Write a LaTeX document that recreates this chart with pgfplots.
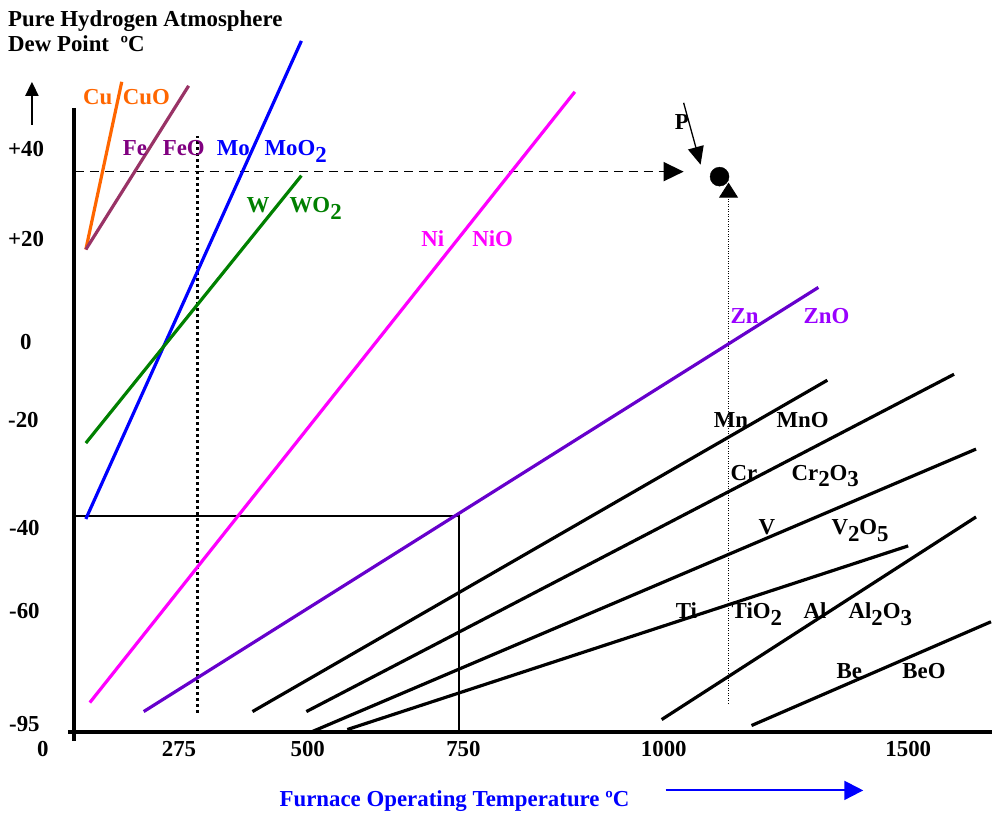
\documentclass[border=0pt]{standalone}
\usepackage{fontspec}
\setmainfont{Liberation Serif}
\usepackage{pgfplots}
\pgfplotsset{compat=1.18}
\usetikzlibrary{arrows.meta}
\definecolor{cuorange}{RGB}{255,102,0}
\definecolor{feline}{RGB}{153,51,102}
\definecolor{fetext}{RGB}{128,0,128}
\definecolor{moblue}{RGB}{0,0,255}
\definecolor{wgreen}{RGB}{0,128,0}
\definecolor{nimag}{RGB}{255,0,255}
\definecolor{znline}{RGB}{102,0,204}
\definecolor{zntext}{RGB}{153,0,255}
\newcommand{\sub}[1]{\raisebox{-0.3em}{#1}}
\tikzset{lab/.style={anchor=base west,inner sep=0pt,font=\fontsize{22.9}{25}\selectfont\bfseries}}
\begin{document}
\begin{tikzpicture}
\begin{axis}[x=1pt,y=1pt,xmin=0,xmax=994,ymin=0,ymax=814,
  axis line style={draw=none},xtick=\empty,ytick=\empty,clip=false]
% axes
\addplot[black,line width=3.5pt] coordinates {(74,706) (74,72)};
\addplot[black,line width=4pt] coordinates {(68,81) (994,81)};
\addplot[black,line width=2pt,-{Triangle[width=13pt,length=14pt]}] coordinates {(32,689) (32,732)};
\addplot[blue,line width=2pt,-{Triangle[width=19pt,length=19pt]}] coordinates {(667,22) (865,22)};
% guide lines
\addplot[black,line width=1.2pt] coordinates {(74,297) (460,297) (460,81)};
\addplot[black,line width=3pt,dash pattern=on 3pt off 3pt] coordinates {(198,100) (198,678)};
\addplot[black,line width=1.6pt,dash pattern=on 9pt off 6pt,-{Triangle[width=19pt,length=20pt]}] coordinates {(75,642) (685,642)};
\addplot[black,line width=0.7pt,dash pattern=on 1pt off 1.5pt,-{Triangle[width=19pt,length=15pt]}] coordinates {(730,109) (730,631)};
\addplot[black,line width=1.3pt,-{Triangle[width=16pt,length=18pt]}] coordinates {(685,711) (702,649)};
\addplot[only marks,mark=*,mark size=9.5pt,black] coordinates {(721,637)};
% oxidation lines
\addplot[cuorange,line width=3.2pt] coordinates {(86,564) (122,732)};
\addplot[feline,line width=3.2pt] coordinates {(86,564) (189,728)};
\addplot[moblue,line width=3.2pt] coordinates {(86,294) (302,773)};
\addplot[wgreen,line width=3.2pt] coordinates {(86,370) (302,638)};
\addplot[nimag,line width=3.2pt] coordinates {(90,110) (576,722)};
\addplot[znline,line width=3.2pt] coordinates {(144,101) (820,526)};
\addplot[black,line width=3.2pt] coordinates {(253,101) (829,433)};
\addplot[black,line width=3.2pt] coordinates {(307,101) (956,439)};
\addplot[black,line width=3.2pt] coordinates {(313,81) (978,364)};
\addplot[black,line width=3.2pt] coordinates {(348,83) (910,267)};
\addplot[black,line width=3.2pt] coordinates {(663,93) (978,296)};
\addplot[black,line width=3.2pt] coordinates {(753,87) (993,191)};
% titles
\node[lab] at (axis cs:8,787) {Pure Hydrogen Atmosphere};
\node[lab] at (axis cs:8,762) {Dew Point\ \ ºC};
\node[lab,text=blue] at (axis cs:280,6) {Furnace Operating Temperature ºC};
% y tick labels
\node[lab] at (axis cs:8,657) {+40};
\node[lab] at (axis cs:8,567) {+20};
\node[lab] at (axis cs:20,464) {0};
\node[lab] at (axis cs:8,386) {-20};
\node[lab] at (axis cs:9,277) {-40};
\node[lab] at (axis cs:9,194) {-60};
\node[lab] at (axis cs:9,81) {-95};
% x tick labels
\node[lab] at (axis cs:37,56) {0};
\node[lab] at (axis cs:162,56) {275};
\node[lab] at (axis cs:291,56) {500};
\node[lab] at (axis cs:447,56) {750};
\node[lab] at (axis cs:642,56) {1000};
\node[lab] at (axis cs:887,56) {1500};
% element labels
\node[lab,text=cuorange] at (axis cs:83,709) {Cu};
\node[lab,text=cuorange] at (axis cs:123,709) {CuO};
\node[lab,text=fetext] at (axis cs:123,658) {Fe};
\node[lab,text=fetext] at (axis cs:163,658) {FeO};
\node[lab,text=moblue] at (axis cs:217,658) {Mo};
\node[lab,text=moblue] at (axis cs:265,658) {MoO\sub{2}};
\node[lab,text=wgreen] at (axis cs:247,601) {W};
\node[lab,text=wgreen] at (axis cs:290,601) {WO\sub{2}};
\node[lab,text=nimag] at (axis cs:422,567) {Ni};
\node[lab,text=nimag] at (axis cs:473,567) {NiO};
\node[lab,text=zntext] at (axis cs:732,490) {Zn};
\node[lab,text=zntext] at (axis cs:805,490) {ZnO};
\node[lab] at (axis cs:715,386) {Mn};
\node[lab] at (axis cs:778,386) {MnO};
\node[lab] at (axis cs:732,333) {Cr};
\node[lab] at (axis cs:793,333) {Cr\sub{2}O\sub{3}};
\node[lab] at (axis cs:760,278) {V};
\node[lab] at (axis cs:833,278) {V\sub{2}O\sub{5}};
\node[lab] at (axis cs:677,194) {Ti};
\node[lab] at (axis cs:733,194) {TiO\sub{2}};
\node[lab] at (axis cs:805,194) {Al};
\node[lab] at (axis cs:850,194) {Al\sub{2}O\sub{3}};
\node[lab] at (axis cs:838,134) {Be};
\node[lab] at (axis cs:904,134) {BeO};
\node[lab] at (axis cs:676,684) {P};
\end{axis}
\end{tikzpicture}
\end{document}
